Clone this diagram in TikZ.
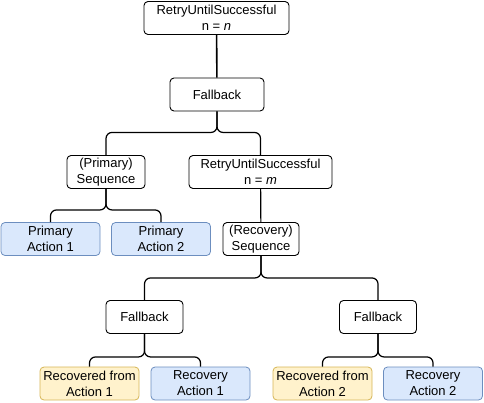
\documentclass[tikz,border=0pt]{standalone}
\usepackage{fontspec}
\setmainfont{Liberation Sans}
\usepackage{tikz}
\usetikzlibrary{positioning}

\definecolor{actfill}{HTML}{DAE8FC}
\definecolor{actline}{HTML}{6C8EBF}
\definecolor{recfill}{HTML}{FFF2CC}
\definecolor{recline}{HTML}{D6B656}

\begin{document}
\begin{tikzpicture}[x=1pt,y=-1pt,
	every node/.style={font=\fontsize{13}{16}\selectfont,align=center,inner sep=1pt},
	ctrl/.style={draw,rounded corners=4pt,line width=0.9pt,minimum height=33pt},
	act/.style={ctrl,draw=actline,fill=actfill,minimum width=99pt,line width=0.8pt},
	rec/.style={ctrl,draw=recline,fill=recfill,minimum width=99pt,line width=0.8pt},
	link/.style={draw,line width=1.2pt,rounded corners=6pt}]
			\useasboundingbox (0,0) rectangle (484,402);
			\node[ctrl,minimum width=145pt] (root) at (216.5,18) {RetryUntilSuccessful\\n = \textit{n}};
			\node[ctrl,minimum width=94pt] (fb) at (217,94.5) {Fallback};
			\node[ctrl,minimum width=78pt] (pseq) at (106,172) {(Primary)\\Sequence};
			\node[ctrl,minimum width=143pt] (retry) at (260.5,172) {RetryUntilSuccessful\\n = \textit{m}};
			\node[act] (pa1) at (50.5,239) {Primary\\Action 1};
			\node[act] (pa2) at (161,239) {Primary\\Action 2};
			\node[ctrl,minimum width=76pt] (rseq) at (261,239) {(Recovery)\\Sequence};
			\node[ctrl,minimum width=77pt] (fb1) at (144.5,317) {Fallback};
			\node[ctrl,minimum width=77pt] (fb2) at (378,317) {Fallback};
			\node[rec] (rf1) at (89.5,383.5) {Recovered from\\Action 1};
			\node[act] (ra1) at (200.5,383.5) {Recovery\\Action 1};
			\node[rec] (rf2) at (322.5,383.5) {Recovered from\\Action 2};
			\node[act] (ra2) at (433,383.5) {Recovery\\Action 2};
			% tree links
			\draw[link,line width=1.6pt] (root) -- (fb);
			\draw[link] (fb.south) -- ++(0,21) -| (pseq.north);
			\draw[link] (fb.south) -- ++(0,21) -| (retry.north);
			\draw[link] (pseq.south) -- ++(0,21) -| (pa1.north);
			\draw[link] (pseq.south) -- ++(0,21) -| (pa2.north);
			\draw[link] (retry) -- (rseq);
			\draw[link] (rseq.south) -- ++(0,22) -| (fb1.north);
			\draw[link] (rseq.south) -- ++(0,22) -| (fb2.north);
			\draw[link] (fb1.south) -- ++(0,23) -| (rf1.north);
			\draw[link] (fb1.south) -- ++(0,23) -| (ra1.north);
			\draw[link] (fb2.south) -- ++(0,23) -| (rf2.north);
			\draw[link] (fb2.south) -- ++(0,23) -| (ra2.north);
\end{tikzpicture}
\end{document}
